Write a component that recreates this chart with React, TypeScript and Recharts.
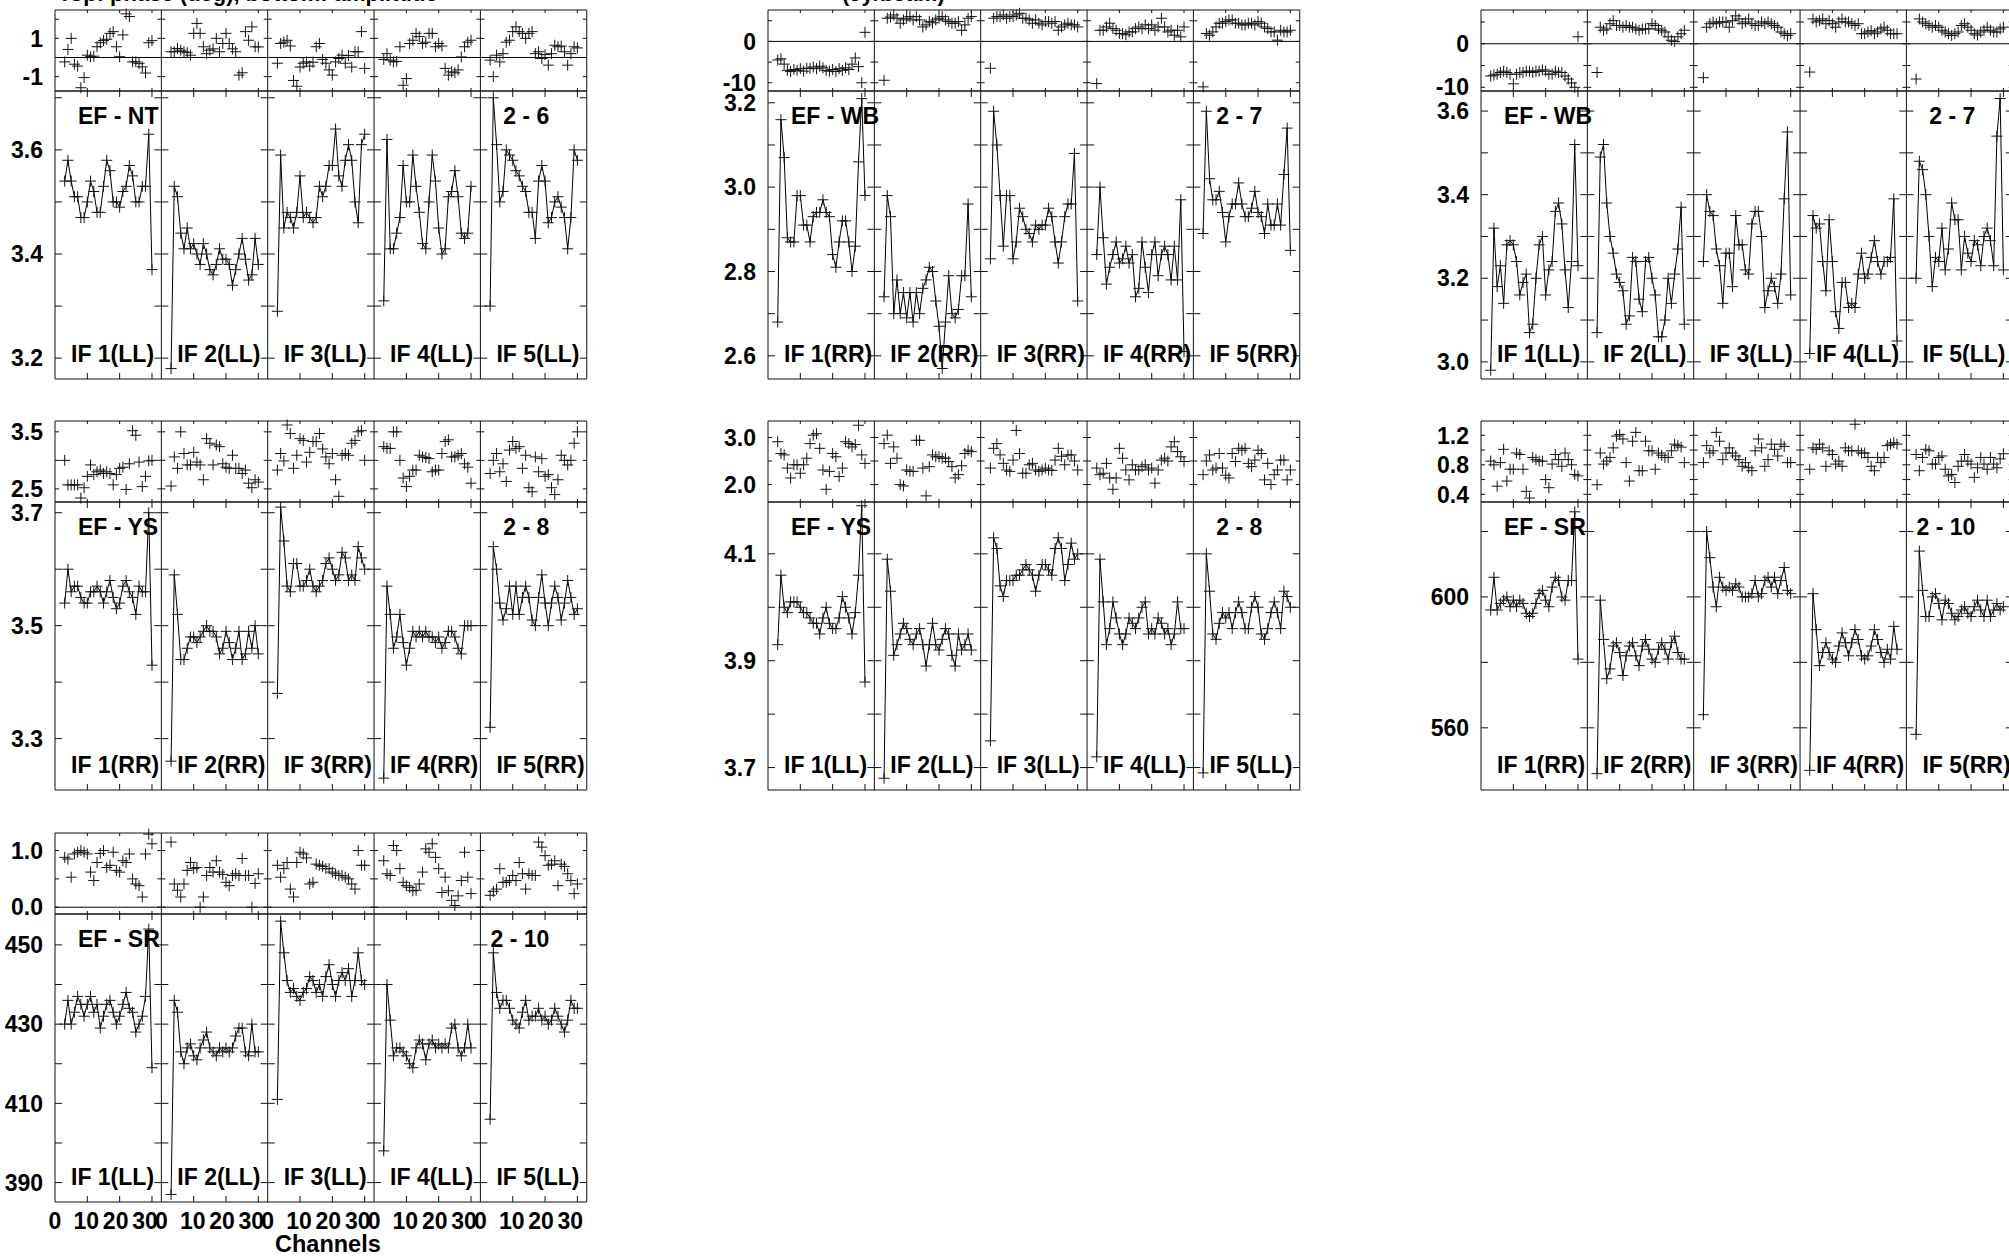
import React from 'react';
import { ComposedChart, Line, XAxis, YAxis, ReferenceLine, ReferenceArea } from 'recharts';

// ---------- data ----------
const CHANNELS = [3, 4, 5, 6, 7, 8, 9, 10, 11, 12, 13, 14, 15, 16, 17, 18, 19, 20, 21, 22, 23, 24, 25, 26, 27, 28, 29, 30];
const X_TICK_LABELS = [0, 10, 20, 30];
const IF_NUMBERS = [1, 2, 3, 4, 5];

// EF - NT (LL), baseline 2 - 6
const NT_LL_PHASE = [
  [-0.23, 0.42, 1.0, -0.35, -0.45, -1.58, -1.05, 0.12, 0.04, 0.07, 0.56, 0.77, 0.88, 0.95, 1.26, 1.35, 0.56, 0.04, 1.18, 2.28, 2.14, -0.23, -0.23, -0.32, -0.49, -0.81, 0.77, 0.88],
  [0.3, 0.3, 0.47, 0.38, 0.3, 0.25, 0.12, 1.26, 1.78, 1.26, 0.56, 0.2, 0.38, 0.45, 1.0, 0.3, 0.73, 1.26, 0.73, 0.45, 0.3, -0.92, -0.8, 1.35, 0.9, 1.6, 0.56, 0.55],
  [-0.3, 0.73, 0.8, 0.9, 0.6, -1.2, -1.5, -0.5, -0.3, -0.23, -0.45, -0.25, 0.56, 0.73, -0.1, -0.3, -0.65, -0.92, -0.23, -0.05, 0.12, -0.3, 0.1, -0.5, 0.3, 0.3, 1.35, -0.57],
  [-0.1, 0.2, -0.14, -0.23, -0.2, 0.56, -1.45, -1.1, 0.73, 0.9, 1.26, 1.09, 0.73, 0.8, 1.26, 1.26, 0.56, 0.73, 0.6, -0.57, -0.92, -0.75, -0.8, -0.65, 0.03, 0.56, 0.8, 0.9],
  [-0.14, -1.0, 0.12, -0.23, 0.2, 0.8, 0.9, 1.35, 1.6, 1.35, 1.26, 1.0, 1.26, 1.35, 0.2, 0.3, -0.05, 0.15, -0.4, 0.2, 0.64, 0.56, 0.6, 0.3, -0.4, 0.2, 0.56, 0.5],
];
const NT_LL_AMP = [
  [3.54, 3.58, 3.54, 3.51, 3.51, 3.47, 3.47, 3.5, 3.54, 3.52, 3.48, 3.48, 3.53, 3.58, 3.56, 3.5, 3.5, 3.49, 3.52, 3.53, 3.57, 3.55, 3.5, 3.5, 3.53, 3.53, 3.63, 3.37],
  [3.18, 3.53, 3.51, 3.44, 3.41, 3.45, 3.41, 3.42, 3.4, 3.38, 3.42, 3.4, 3.37, 3.36, 3.38, 3.41, 3.39, 3.39, 3.38, 3.34, 3.37, 3.4, 3.43, 3.39, 3.35, 3.36, 3.43, 3.38],
  [3.29, 3.59, 3.45, 3.48, 3.47, 3.45, 3.48, 3.55, 3.47, 3.48, 3.47, 3.46, 3.47, 3.53, 3.51, 3.53, 3.57, 3.57, 3.64, 3.55, 3.53, 3.58, 3.61, 3.58, 3.5, 3.46, 3.61, 3.63],
  [3.31, 3.62, 3.41, 3.41, 3.44, 3.47, 3.57, 3.5, 3.5, 3.59, 3.53, 3.48, 3.42, 3.41, 3.5, 3.59, 3.54, 3.45, 3.4, 3.41, 3.51, 3.52, 3.56, 3.51, 3.44, 3.43, 3.44, 3.53],
  [3.3, 3.7, 3.61, 3.5, 3.52, 3.6, 3.59, 3.58, 3.56, 3.55, 3.53, 3.52, 3.48, 3.48, 3.43, 3.54, 3.57, 3.54, 3.46, 3.47, 3.5, 3.51, 3.49, 3.47, 3.41, 3.47, 3.6, 3.58],
];

// EF - YS (RR), baseline 2 - 8
const YS_RR_PHASE = [
  [3.0, 2.57, 2.57, 2.57, 2.57, 2.34, 2.52, 2.72, 2.92, 2.75, 2.8, 2.83, 2.77, 2.8, 2.77, 2.57, 2.75, 2.86, 2.88, 2.49, 2.94, 3.52, 3.44, 2.97, 2.54, 2.72, 2.99, 3.0],
  [2.55, 3.06, 2.86, 3.5, 3.12, 2.92, 2.92, 3.14, 2.97, 2.92, 2.66, 3.38, 3.3, 2.92, 3.27, 3.24, 2.94, 2.88, 2.86, 3.09, 2.86, 2.86, 2.77, 2.83, 2.6, 2.52, 2.66, 2.62],
  [2.83, 3.12, 2.99, 3.62, 3.47, 2.86, 3.09, 3.38, 3.35, 2.97, 3.14, 3.33, 3.33, 3.47, 3.2, 3.06, 2.94, 3.12, 2.66, 2.37, 3.09, 3.12, 3.09, 3.3, 3.35, 3.5, 3.52, 3.0],
  [3.24, 3.21, 3.21, 3.5, 3.5, 3.0, 2.69, 2.54, 2.72, 2.83, 2.83, 3.09, 3.06, 3.05, 3.03, 2.8, 2.83, 2.83, 3.12, 3.33, 3.36, 3.06, 3.06, 3.09, 3.12, 2.94, 2.88, 2.6],
  [2.77, 3.0, 3.12, 2.8, 2.94, 2.63, 3.18, 3.33, 3.21, 3.24, 2.86, 3.09, 2.52, 2.45, 3.06, 2.8, 3.03, 2.72, 2.75, 2.52, 2.4, 2.66, 3.09, 3.0, 2.92, 3.0, 3.3, 3.5],
];
const YS_RR_AMP = [
  [3.54, 3.6, 3.56, 3.57, 3.57, 3.55, 3.54, 3.54, 3.56, 3.56, 3.57, 3.56, 3.54, 3.56, 3.58, 3.55, 3.53, 3.54, 3.57, 3.58, 3.56, 3.55, 3.52, 3.57, 3.56, 3.56, 3.7, 3.43],
  [3.26, 3.59, 3.52, 3.44, 3.44, 3.46, 3.48, 3.48, 3.47, 3.48, 3.49, 3.5, 3.49, 3.49, 3.48, 3.45, 3.46, 3.49, 3.47, 3.44, 3.46, 3.49, 3.44, 3.45, 3.49, 3.46, 3.5, 3.45],
  [3.38, 3.71, 3.65, 3.57, 3.56, 3.61, 3.61, 3.57, 3.57, 3.58, 3.6, 3.57, 3.56, 3.57, 3.58, 3.61, 3.62, 3.6, 3.58, 3.59, 3.63, 3.62, 3.58, 3.59, 3.58, 3.64, 3.62, 3.6],
  [3.23, 3.57, 3.52, 3.46, 3.48, 3.52, 3.47, 3.43, 3.46, 3.49, 3.48, 3.49, 3.48, 3.49, 3.48, 3.48, 3.47, 3.48, 3.46, 3.47, 3.49, 3.49, 3.48, 3.46, 3.45, 3.5, 3.5, 3.5],
  [3.32, 3.64, 3.6, 3.54, 3.51, 3.53, 3.57, 3.52, 3.57, 3.52, 3.55, 3.57, 3.55, 3.51, 3.5, 3.55, 3.59, 3.54, 3.5, 3.54, 3.57, 3.55, 3.51, 3.54, 3.58, 3.55, 3.52, 3.53],
];

// EF - SR (LL), baseline 2 - 10
const SR_LL_PHASE = [
  [0.88, 0.85, 0.53, 0.94, 0.97, 1.0, 0.97, 0.94, 0.62, 0.47, 0.79, 0.95, 1.0, 0.7, 0.74, 0.97, 0.65, 0.62, 0.82, 0.79, 0.94, 0.5, 0.41, 0.38, 0.18, 0.94, 1.29, 1.12],
  [1.15, 0.41, 0.3, 0.18, 0.41, 0.65, 0.79, 0.68, 0.7, 0.0, 0.18, 0.56, 0.7, 0.62, 0.82, 0.62, 0.58, 0.44, 0.38, 0.56, 0.59, 0.56, 0.86, 0.56, 0.56, 0.0, 0.42, 0.59],
  [0.74, 0.53, 0.68, 0.79, 0.32, 0.18, 0.79, 0.97, 0.94, 0.87, 0.41, 0.44, 0.76, 0.74, 0.72, 0.68, 0.68, 0.62, 0.59, 0.56, 0.56, 0.53, 0.5, 0.41, 0.32, 1.0, 0.74, 0.74],
  [0.82, 0.59, 0.56, 1.09, 1.0, 0.68, 0.44, 0.38, 0.35, 0.29, 0.3, 0.41, 0.62, 1.03, 0.97, 1.12, 0.88, 0.68, 0.26, 0.53, 0.29, 0.12, 0.03, 0.2, 0.47, 0.97, 0.53, 0.24],
  [0.21, 0.28, 0.32, 0.68, 0.44, 0.44, 0.47, 0.56, 0.47, 0.79, 0.59, 0.32, 0.59, 0.56, 0.56, 1.15, 1.06, 0.91, 0.74, 0.76, 0.82, 0.38, 0.76, 0.72, 0.59, 0.47, 0.24, 0.41],
];
const SR_LL_AMP = [
  [430, 436, 430, 433, 437, 435, 432, 435, 437, 433, 435, 429, 432, 435, 436, 433, 430, 432, 435, 438, 434, 433, 428, 430, 432, 437, 454, 419],
  [387, 436, 433, 423, 420, 424, 425, 422, 421, 424, 426, 428, 424, 423, 422, 424, 423, 424, 423, 424, 427, 429, 429, 423, 422, 430, 423, 423],
  [411, 456, 448, 441, 438, 439, 437, 436, 438, 439, 442, 441, 438, 440, 437, 442, 445, 440, 437, 441, 443, 441, 444, 437, 441, 448, 441, 440],
  [398, 440, 431, 422, 424, 424, 423, 422, 420, 419, 424, 426, 425, 421, 425, 426, 424, 425, 424, 425, 424, 429, 430, 424, 422, 424, 430, 424],
  [406, 448, 438, 434, 436, 436, 434, 431, 430, 429, 433, 436, 431, 432, 432, 434, 431, 432, 430, 431, 434, 432, 430, 428, 431, 436, 434, 434],
];

// EF - WB (RR), baseline 2 - 7
const WB_RR_PHASE = [
  [-4.5, -4.2, -5.5, -7.0, -7.3, -6.8, -7.0, -6.6, -7.2, -6.5, -6.5, -6.2, -6.6, -6.0, -6.4, -7.0, -7.2, -6.8, -7.3, -6.6, -7.0, -6.4, -6.8, -5.5, -4.0, -6.1, -10.0, 2.2],
  [-9.4, 5.6, 5.9, 6.4, 5.6, 4.4, 5.2, 5.6, 6.0, 5.2, 6.0, 5.2, 3.5, 4.0, 4.8, 4.5, 5.2, 5.6, 6.0, 5.2, 4.8, 4.4, 4.4, 4.8, 2.7, 4.0, 5.6, 6.0],
  [-6.5, 5.6, 6.0, 6.0, 6.4, 5.6, 6.0, 6.0, 6.4, 6.8, 5.6, 5.6, 5.2, 4.4, 5.2, 4.4, 4.0, 4.8, 4.8, 4.4, 4.8, 2.7, 3.5, 4.0, 4.4, 4.0, 4.0, 3.5],
  [-10.2, 2.7, 2.7, 3.5, 4.4, 3.1, 2.7, 1.9, 1.9, 1.6, 2.3, 2.3, 3.1, 3.5, 3.1, 4.0, 3.1, 4.0, 2.7, 3.5, 5.6, 3.5, 2.3, 2.7, 1.5, 2.7, 1.1, 3.5],
  [-11.0, 1.9, 1.5, 2.3, 3.5, 4.4, 4.4, 4.8, 5.2, 5.2, 4.4, 4.4, 4.0, 4.0, 4.4, 4.4, 4.0, 4.8, 4.4, 3.5, 3.1, 2.3, 2.3, 0.3, 2.7, 2.3, 2.3, 2.7],
];
const WB_RR_AMP = [
  [2.68, 3.16, 3.07, 2.88, 2.87, 2.87, 2.98, 2.98, 2.91, 2.91, 2.87, 2.93, 2.94, 2.94, 2.97, 2.94, 2.93, 2.84, 2.81, 2.87, 2.92, 2.92, 2.87, 2.8, 2.86, 3.06, 3.21, 2.98],
  [2.74, 2.98, 2.93, 2.7, 2.78, 2.7, 2.75, 2.69, 2.75, 2.68, 2.75, 2.7, 2.76, 2.78, 2.81, 2.8, 2.73, 2.67, 2.57, 2.68, 2.79, 2.7, 2.69, 2.71, 2.79, 2.79, 2.96, 2.74],
  [2.83, 3.18, 3.1, 2.98, 2.86, 2.98, 2.98, 2.83, 2.87, 2.95, 2.93, 2.9, 2.89, 2.87, 2.91, 2.9, 2.91, 2.91, 2.95, 2.93, 2.87, 2.82, 2.87, 2.93, 2.96, 2.96, 3.08, 2.73],
  [2.84, 3.0, 2.88, 2.77, 2.81, 2.84, 2.87, 2.82, 2.83, 2.86, 2.82, 2.84, 2.74, 2.76, 2.87, 2.81, 2.75, 2.84, 2.87, 2.79, 2.84, 2.86, 2.84, 2.78, 2.86, 2.78, 2.97, 2.61],
  [2.89, 3.18, 3.02, 2.97, 2.97, 2.99, 2.94, 2.87, 2.93, 2.96, 2.96, 3.01, 2.96, 2.93, 2.93, 2.95, 2.99, 2.94, 2.93, 2.89, 2.96, 2.91, 2.91, 2.96, 2.91, 3.03, 3.14, 2.85],
];

// EF - YS (LL), baseline 2 - 8
const YS_LL_PHASE = [
  [2.91, 2.66, 2.63, 2.35, 2.14, 2.42, 2.42, 2.24, 2.42, 2.56, 2.87, 3.05, 3.08, 2.77, 2.31, 1.9, 2.28, 2.66, 2.59, 2.17, 2.35, 2.91, 2.87, 2.8, 2.85, 3.26, 2.63, 2.45],
  [2.87, 3.05, 2.45, 2.8, 2.56, 2.0, 1.97, 2.31, 2.28, 2.28, 2.94, 2.94, 2.35, 1.76, 2.38, 2.63, 2.59, 2.59, 2.56, 2.56, 2.49, 2.38, 2.14, 2.21, 2.4, 2.66, 2.73, 2.7],
  [2.35, 2.77, 2.87, 2.63, 2.45, 2.31, 2.28, 2.52, 3.15, 2.66, 2.24, 2.24, 2.42, 2.45, 2.31, 2.28, 2.31, 2.35, 2.31, 2.3, 2.52, 2.77, 2.6, 2.42, 2.63, 2.63, 2.5, 2.31],
  [2.35, 2.21, 2.24, 2.45, 2.14, 1.9, 2.14, 2.77, 2.56, 2.31, 2.1, 2.42, 2.31, 2.31, 2.38, 2.42, 2.31, 2.35, 2.03, 2.31, 2.52, 2.56, 2.5, 2.8, 2.91, 2.7, 2.59, 2.49],
  [2.21, 2.5, 2.63, 2.31, 2.35, 2.66, 2.35, 2.2, 2.14, 2.66, 2.49, 2.77, 2.73, 2.77, 2.45, 2.38, 2.52, 2.73, 2.66, 2.1, 2.45, 2.0, 2.21, 2.31, 2.52, 2.52, 2.1, 2.31],
];
const YS_LL_AMP = [
  [3.93, 4.06, 4.0, 3.99, 4.01, 4.01, 4.01, 4.0, 3.99, 3.99, 3.98, 3.97, 3.97, 3.95, 3.98, 4.0, 3.97, 3.96, 3.96, 3.98, 4.02, 4.0, 3.98, 3.95, 3.99, 4.06, 4.19, 3.86],
  [3.68, 4.09, 4.03, 3.91, 3.93, 3.95, 3.97, 3.96, 3.94, 3.93, 3.95, 3.96, 3.93, 3.89, 3.93, 3.97, 3.93, 3.92, 3.94, 3.96, 3.95, 3.91, 3.89, 3.95, 3.92, 3.93, 3.95, 3.92],
  [3.75, 4.13, 4.11, 4.04, 4.02, 4.05, 4.05, 4.05, 4.06, 4.06, 4.07, 4.08, 4.07, 4.06, 4.03, 4.06, 4.08, 4.08, 4.07, 4.06, 4.11, 4.13, 4.11, 4.05, 4.08, 4.12, 4.09, 4.1],
  [3.72, 4.09, 4.01, 3.93, 3.96, 4.01, 3.98, 3.95, 3.93, 3.95, 3.98, 3.97, 3.96, 3.98, 4.0, 4.01, 3.95, 3.96, 3.95, 3.98, 3.97, 3.95, 3.96, 3.93, 3.95, 4.01, 3.96, 3.96],
  [3.69, 4.1, 4.03, 3.95, 3.94, 3.97, 3.99, 3.98, 3.99, 3.96, 3.99, 4.01, 3.99, 3.96, 3.96, 4.0, 4.02, 4.0, 3.95, 3.94, 3.96, 3.99, 4.01, 3.99, 3.96, 4.03, 4.02, 4.0],
];

// EF - WB (LL), baseline 2 - 7
const WB_LL_PHASE = [
  [-7.4, -7.2, -7.0, -6.6, -6.3, -6.6, -7.0, -9.2, -7.0, -6.6, -6.6, -6.3, -6.3, -6.6, -6.3, -6.3, -6.0, -6.3, -7.0, -7.0, -6.3, -6.6, -6.6, -7.4, -8.1, -9.0, -10.0, 1.6],
  [-6.6, 3.8, 3.1, 3.4, 4.6, 5.3, 4.2, 4.2, 3.8, 4.2, 3.8, 3.8, 3.4, 3.1, 3.4, 3.4, 3.4, 4.6, 4.2, 3.4, 3.1, 2.7, 1.6, 0.8, 0.5, 1.6, 2.3, 3.1],
  [-7.8, 3.8, 4.6, 5.0, 4.6, 5.0, 5.0, 5.0, 3.8, 5.3, 6.4, 5.7, 4.6, 5.0, 5.7, 4.6, 4.2, 4.2, 5.0, 4.6, 5.0, 4.6, 4.2, 3.8, 2.7, 2.3, 1.9, 2.3],
  [-6.5, 5.7, 5.0, 5.3, 5.7, 4.6, 5.3, 4.6, 3.8, 5.0, 5.7, 5.0, 5.0, 4.6, 4.2, 4.6, 2.3, 2.3, 2.7, 3.0, 2.3, 2.7, 3.4, 3.8, 3.1, 2.3, 2.3, 2.3],
  [-8.1, 5.7, 5.0, 4.6, 4.2, 3.8, 4.2, 3.8, 3.1, 2.7, 2.3, 1.9, 2.3, 2.7, 4.2, 4.6, 3.8, 3.1, 2.3, 2.0, 2.7, 3.1, 3.8, 3.1, 2.7, 2.7, 3.4, 3.8],
];
const WB_LL_AMP = [
  [2.98, 3.32, 3.18, 3.23, 3.14, 3.28, 3.29, 3.28, 3.24, 3.16, 3.19, 3.21, 3.07, 3.09, 3.2, 3.28, 3.3, 3.16, 3.22, 3.24, 3.36, 3.38, 3.33, 3.22, 3.13, 3.24, 3.52, 3.23],
  [3.07, 3.49, 3.52, 3.38, 3.3, 3.26, 3.21, 3.19, 3.17, 3.09, 3.11, 3.25, 3.24, 3.15, 3.12, 3.24, 3.25, 3.2, 3.16, 3.06, 3.06, 3.1, 3.2, 3.14, 3.21, 3.27, 3.37, 3.09],
  [3.24, 3.4, 3.36, 3.35, 3.27, 3.23, 3.14, 3.26, 3.26, 3.18, 3.35, 3.28, 3.28, 3.22, 3.21, 3.33, 3.36, 3.36, 3.3, 3.13, 3.17, 3.2, 3.18, 3.14, 3.21, 3.39, 3.55, 3.16],
  [3.02, 3.35, 3.32, 3.33, 3.24, 3.17, 3.34, 3.24, 3.12, 3.08, 3.19, 3.19, 3.13, 3.14, 3.13, 3.21, 3.26, 3.2, 3.21, 3.25, 3.29, 3.24, 3.21, 3.24, 3.24, 3.25, 3.39, 3.05],
  [3.2, 3.48, 3.46, 3.4, 3.3, 3.18, 3.25, 3.24, 3.32, 3.22, 3.27, 3.38, 3.34, 3.34, 3.22, 3.3, 3.26, 3.24, 3.29, 3.28, 3.23, 3.3, 3.32, 3.29, 3.23, 3.54, 3.63, 3.22],
];

// EF - SR (RR), baseline 2 - 10
const SR_RR_PHASE = [
  [0.85, 0.8, 0.51, 0.83, 1.01, 0.58, 0.74, 0.74, 0.96, 0.94, 0.74, 0.44, 0.35, 0.9, 0.87, 0.85, 0.85, 0.6, 0.49, 0.81, 0.94, 0.87, 0.78, 0.96, 0.87, 0.8, 0.67, 0.65],
  [0.53, 0.96, 0.81, 0.85, 0.9, 1.03, 1.19, 1.21, 1.15, 0.83, 0.58, 1.12, 1.24, 0.72, 0.72, 1.12, 0.99, 0.99, 0.74, 0.96, 0.93, 0.9, 0.9, 0.99, 1.08, 1.06, 1.04, 0.83],
  [0.83, 1.06, 0.96, 0.99, 1.24, 1.12, 0.87, 0.96, 1.03, 0.96, 0.92, 0.87, 0.78, 0.83, 0.76, 0.72, 0.99, 1.15, 1.03, 0.78, 0.87, 1.08, 1.01, 0.92, 1.08, 1.05, 0.83, 0.83],
  [0.74, 1.03, 1.01, 1.08, 1.03, 0.78, 0.99, 0.94, 0.81, 0.85, 0.78, 1.03, 0.99, 0.99, 1.35, 0.99, 0.96, 0.96, 0.9, 0.78, 0.72, 0.9, 0.83, 0.9, 1.06, 1.08, 1.1, 1.08],
  [0.94, 0.72, 0.9, 1.01, 0.99, 0.81, 0.81, 0.9, 0.92, 0.74, 0.65, 0.67, 0.56, 0.78, 0.85, 0.94, 0.85, 0.81, 0.63, 0.76, 0.9, 0.81, 0.74, 0.9, 0.81, 0.76, 0.88, 0.95],
];
const SR_RR_AMP = [
  [596, 606, 596, 598, 599, 600, 597, 599, 597, 599, 598, 595, 594, 595, 598, 601, 602, 599, 597, 603, 606, 605, 600, 599, 605, 605, 626, 581],
  [546, 599, 587, 575, 578, 585, 586, 583, 576, 582, 585, 586, 582, 579, 585, 587, 584, 581, 580, 584, 586, 584, 581, 586, 588, 583, 581, 581],
  [564, 620, 612, 603, 597, 606, 603, 602, 603, 602, 604, 603, 600, 600, 600, 601, 605, 600, 601, 605, 606, 603, 606, 601, 605, 609, 602, 601],
  [547, 601, 590, 579, 583, 586, 583, 581, 580, 585, 589, 586, 582, 586, 590, 587, 582, 581, 582, 585, 590, 587, 583, 580, 584, 581, 591, 584],
  [558, 614, 602, 594, 594, 600, 601, 598, 593, 599, 598, 595, 593, 594, 596, 597, 595, 594, 597, 599, 596, 594, 599, 594, 596, 598, 596, 597],
];

// ---------- layout / styling ----------
const FONT = '"Liberation Sans", Arial, Helvetica, sans-serif';
const IF_SPAN = 32.9;
const COL_X = [55, 768, 1481];
const ROW_Y = [10, 421, 833];
const IF_W = 106.35;
const PANEL_W = IF_W * 5;
const PHASE_H = 81;
const AMP_H = 288;
const ML = 72;
const MR = 14;
const MT = 14;
const MB = 60;
const TICK_FONT = 23;
// horizontal nudge of the channel tick labels (as in the original plot, where "30" and the next "0" sit side by side)
const X_LABEL_SHIFT: Record<number, number> = { 0: 0, 10: -1, 20: -4, 30: -7 };

const PANELS = [
  { col: 0, row: 0, name: 'EF - NT', base: '2 - 6', pol: 'LL', phase: NT_LL_PHASE, amp: NT_LL_AMP,
    phDomain: [-1.75, 2.48], phTicks: [-1, 0, 1, 2], phLabels: ['1', '-1'], zero: true,
    ampDomain: [3.16, 3.713], ampTicks: [3.2, 3.3, 3.4, 3.5, 3.6, 3.7], ampLabels: ['3.2', '3.4', '3.6'] },
  { col: 1, row: 0, name: 'EF - WB', base: '2 - 7', pol: 'RR', phase: WB_RR_PHASE, amp: WB_RR_AMP,
    phDomain: [-12.0, 7.6], phTicks: [-10, -5, 0, 5], phLabels: ['0', '-10'], zero: true,
    ampDomain: [2.545, 3.228], ampTicks: [2.6, 2.7, 2.8, 2.9, 3.0, 3.1, 3.2], ampLabels: ['2.6', '2.8', '3.0', '3.2'] },
  { col: 2, row: 0, name: 'EF - WB', base: '2 - 7', pol: 'LL', phase: WB_LL_PHASE, amp: WB_LL_AMP,
    phDomain: [-10.85, 7.75], phTicks: [-10, -5, 0, 5], phLabels: ['0', '-10'], zero: true,
    ampDomain: [2.959, 3.648], ampTicks: [3.0, 3.1, 3.2, 3.3, 3.4, 3.5, 3.6], ampLabels: ['3.0', '3.2', '3.4', '3.6'] },
  { col: 0, row: 1, name: 'EF - YS', base: '2 - 8', pol: 'RR', phase: YS_RR_PHASE, amp: YS_RR_AMP,
    phDomain: [2.27, 3.69], phTicks: [2.5, 3.0, 3.5], phLabels: ['2.5', '3.5'], zero: false,
    ampDomain: [3.209, 3.719], ampTicks: [3.3, 3.4, 3.5, 3.6, 3.7], ampLabels: ['3.3', '3.5', '3.7'] },
  { col: 1, row: 1, name: 'EF - YS', base: '2 - 8', pol: 'LL', phase: YS_LL_PHASE, amp: YS_LL_AMP,
    phDomain: [1.63, 3.35], phTicks: [2.0, 2.5, 3.0], phLabels: ['2.0', '3.0'], zero: false,
    ampDomain: [3.658, 4.197], ampTicks: [3.7, 3.8, 3.9, 4.0, 4.1], ampLabels: ['3.7', '3.9', '4.1'] },
  { col: 2, row: 1, name: 'EF - SR', base: '2 - 10', pol: 'RR', phase: SR_RR_PHASE, amp: SR_RR_AMP,
    phDomain: [0.296, 1.394], phTicks: [0.4, 0.6, 0.8, 1.0, 1.2], phLabels: ['0.4', '0.8', '1.2'], zero: false,
    ampDomain: [541, 629], ampTicks: [560, 580, 600, 620], ampLabels: ['560', '600'] },
  { col: 0, row: 2, name: 'EF - SR', base: '2 - 10', pol: 'LL', phase: SR_LL_PHASE, amp: SR_LL_AMP,
    phDomain: [-0.12, 1.31], phTicks: [0, 0.5, 1.0], phLabels: ['0.0', '1.0'], zero: true,
    ampDomain: [385.1, 457.8], ampTicks: [390, 400, 410, 420, 430, 440, 450], ampLabels: ['390', '410', '430', '450'],
    xLabels: true },
];

const renderCross = (p: any) => {
  const { cx, cy, index } = p;
  if (cx == null || cy == null || isNaN(cx) || isNaN(cy)) return <g key={`n${index}`} />;
  const a = 5.5;
  return (
    <path key={`c${index}`} d={`M${cx - a},${cy}H${cx + a}M${cx},${cy - a}V${cy + a}`}
      stroke="#111" strokeWidth={1} fill="none" />
  );
};

type StripProps = {
  x: number; y: number; h: number; values: number[][]; domain: number[]; ticks: number[];
  labels: string[]; line: boolean; zero: boolean; xLabels?: boolean; tx: number; ty: number;
};

function Strip({ x, y, h, values, domain, ticks, labels, line, zero, xLabels, tx, ty }: StripProps) {
  const series = values.map((vals, k) => CHANNELS.map((c, i) => ({ x: k * IF_SPAN + c, y: vals[i] })));
  const xTicks: number[] = [];
  IF_NUMBERS.forEach((_, k) => X_TICK_LABELS.forEach((t) => xTicks.push(k * IF_SPAN + t)));
  const plotTop = MT;
  const plotBot = MT + h;

  const renderX = (p: any) => {
    const v = p.payload.value;
    const k = Math.floor((v + 1e-6) / IF_SPAN);
    const ch = Math.round(v - k * IF_SPAN);
    const xx = p.x;
    return (
      <g key={`xt${p.index}`}>
        {ch !== 0 && <line x1={xx} x2={xx} y1={plotBot} y2={plotBot - tx} stroke="#111" strokeWidth={1} />}
        {ch !== 0 && <line x1={xx} x2={xx} y1={plotTop} y2={plotTop + tx} stroke="#111" strokeWidth={1} />}
        {xLabels && (
          <text x={xx + (X_LABEL_SHIFT[ch] || 0)} y={plotBot + 27} textAnchor="middle" fontFamily={FONT}
            fontWeight="bold" fontSize={TICK_FONT} fill="#000">{ch}</text>
        )}
      </g>
    );
  };

  const renderY = (p: any) => {
    const v = p.payload.value;
    const yy = p.y;
    const lab = labels.find((l) => Math.abs(parseFloat(l) - v) < 1e-6);
    const segs: any[] = [];
    for (let k = 0; k <= 5; k++) {
      const xk = ML + k * IF_W;
      if (k < 5) segs.push(<line key={`r${k}`} x1={xk} x2={xk + ty} y1={yy} y2={yy} stroke="#111" strokeWidth={1} />);
      if (k > 0) segs.push(<line key={`l${k}`} x1={xk - ty} x2={xk} y1={yy} y2={yy} stroke="#111" strokeWidth={1} />);
    }
    return (
      <g key={`yt${p.index}`}>
        {segs}
        {lab && (
          <text x={ML - 12} y={yy + 8.2} textAnchor="end" fontFamily={FONT} fontWeight="bold"
            fontSize={TICK_FONT} fill="#000">{lab}</text>
        )}
      </g>
    );
  };

  const xMax = 5 * IF_SPAN;
  // axes take 1px each (a 0-size axis is not drawn), so margins are reduced by 1px to keep the plot in place
  return (
    <div style={{ position: 'absolute', left: x - ML, top: y - MT }}>
      <ComposedChart width={PANEL_W + ML + MR} height={h + MT + MB}
        margin={{ top: MT, right: MR, bottom: MB - 1, left: ML - 1 }}>
        <XAxis type="number" dataKey="x" domain={[0, xMax]} ticks={xTicks} interval={0}
          tick={renderX} tickLine={false} axisLine={false} height={1} />
        <YAxis type="number" domain={domain} ticks={ticks} interval={0}
          tick={renderY} tickLine={false} axisLine={false} width={1} />
        <ReferenceArea x1={0} x2={xMax} y1={domain[0]} y2={domain[1]} fill="none" fillOpacity={0}
          stroke="#111" strokeWidth={1} />
        {[1, 2, 3, 4].map((k) => (
          <ReferenceLine key={`d${k}`} x={k * IF_SPAN} stroke="#111" strokeWidth={1} />
        ))}
        {zero && <ReferenceLine y={0} stroke="#000" strokeWidth={1} />}
        {series.map((d, k) => (
          <Line key={`s${k}`} data={d} dataKey="y" type="linear" stroke={line ? '#000' : 'none'}
            strokeWidth={1} dot={renderCross} activeDot={false} isAnimationActive={false} />
        ))}
      </ComposedChart>
    </div>
  );
}

export default function App() {
  const textStyle = { fontFamily: FONT, fontWeight: 'bold' as const, fill: '#000' };
  return (
    <div style={{ position: 'absolute', left: 0, top: 0, width: 2009, height: 1256, overflow: 'hidden', background: '#fff' }}>
      {PANELS.map((p, i) => {
        const px = COL_X[p.col];
        const py = ROW_Y[p.row];
        return (
          <React.Fragment key={i}>
            <Strip x={px} y={py} h={PHASE_H} values={p.phase} domain={p.phDomain} ticks={p.phTicks}
              labels={p.phLabels} line={false} zero={p.zero} tx={3} ty={4} />
            <Strip x={px} y={py + PHASE_H} h={AMP_H} values={p.amp} domain={p.ampDomain} ticks={p.ampTicks}
              labels={p.ampLabels} line={true} zero={false} xLabels={!!p.xLabels} tx={6} ty={7} />
          </React.Fragment>
        );
      })}
      <svg width={2009} height={1256} style={{ position: 'absolute', left: 0, top: 0, pointerEvents: 'none' }}>
        <text x={58} y={1} fontSize={22} {...textStyle}>Top: phase (deg), bottom: amplitude</text>
        <text x={842} y={1} fontSize={22} {...textStyle}>(Jy/beam)</text>
        {PANELS.map((p, i) => {
          const px = COL_X[p.col];
          const ampTop = ROW_Y[p.row] + PHASE_H;
          const ampBot = ampTop + AMP_H;
          return (
            <g key={`lab${i}`}>
              <text x={px + 23} y={ampTop + 33} fontSize={23} {...textStyle}>{p.name}</text>
              <text x={px + 4 * IF_W + 69} y={ampTop + 33} fontSize={23} textAnchor="end" {...textStyle}>{p.base}</text>
              {IF_NUMBERS.map((n, k) => (
                <text key={k} x={px + k * IF_W + 16} y={ampBot - 17} fontSize={23} {...textStyle}>
                  {`IF ${n}(${p.pol})`}
                </text>
              ))}
              {p.xLabels && (
                <text x={px + PANEL_W / 2 + 7} y={ampBot + 50} fontSize={23.5} textAnchor="middle" {...textStyle}>Channels</text>
              )}
            </g>
          );
        })}
      </svg>
    </div>
  );
}
